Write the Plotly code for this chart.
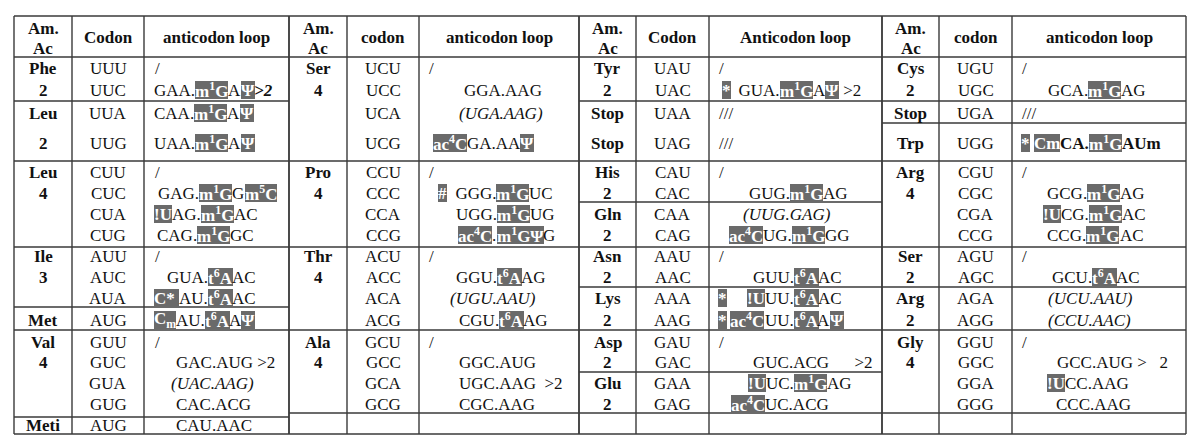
import plotly.graph_objects as go

# ---------------- data ----------------
HEADERS = [
    ["Am.", "Ac", "Codon", "anticodon loop"],
    ["Am.", "Ac", "codon", "anticodon loop"],
    ["Am.", "Ac", "Codon", "Anticodon loop"],
    ["Am.", "Ac", "codon", "anticodon loop"],
]

# Markup: {..} highlighted (white bold on grey), [..] bold italic,
# ^x superscript, _x subscript, leading "b|" = bold row, "(" = italic row
B1_AA = ["Phe", "2", "Leu", "2", "Leu", "4", "", "", "Ile", "3", "", "Met", "Val", "4", "", "", "Meti"]
B1_CODON = ["UUU", "UUC", "UUA", "UUG", "CUU", "CUC", "CUA", "CUG", "AUU", "AUC", "AUA", "AUG",
            "GUU", "GUC", "GUA", "GUG", "AUG"]
B1_ANTI = ["/", "GAA.{m^1G}A{Ψ}[>2]", "CAA.{m^1G}A{Ψ}", "UAA.{m^1G}A{Ψ}",
           "/", "GAG.{m^1G}G{m^5C}", "{!U}AG.{m^1G}AC", "CAG.{m^1G}GC",
           "/", "GUA.{t^6A}AC", "{C* }AU.{t^6A}AC", "{C_m}AU.{t^6A}A{Ψ}",
           "/", "GAC.AUG >2", "(UAC.AAG)", "CAC.ACG", "CAU.AAC"]

B2_AA = ["Ser", "4", "", "", "Pro", "4", "", "", "Thr", "4", "", "", "Ala", "4", "", "", ""]
B2_CODON = ["UCU", "UCC", "UCA", "UCG", "CCU", "CCC", "CCA", "CCG", "ACU", "ACC", "ACA", "ACG",
            "GCU", "GCC", "GCA", "GCG", ""]
B2_ANTI = ["/", "GGA.AAG", "(UGA.AAG)", "{ac^4C}GA.AA{Ψ}",
           "/", "{#}  GGG.{m^1G}UC", "UGG.{m^1G}UG", "{ac^4C}.{m^1GΨ}G",
           "/", "GGU.{t^6A}AG", "(UGU.AAU)", "CGU.{t^6A}AG",
           "/", "GGC.AUG", "UGC.AAG  >2", "CGC.AAG", ""]

B3_AA = ["Tyr", "2", "Stop", "Stop", "His", "2", "Gln", "2", "Asn", "2", "Lys", "2",
         "Asp", "2", "Glu", "2", ""]
B3_CODON = ["UAU", "UAC", "UAA", "UAG", "CAU", "CAC", "CAA", "CAG", "AAU", "AAC", "AAA", "AAG",
            "GAU", "GAC", "GAA", "GAG", ""]
B3_ANTI = ["/", "{*}  GUA.{m^1G}A{Ψ} >2", "///", "///",
           "/", "GUG.{m^1G}AG", "(UUG.GAG)", "{ac^4C}UG.{m^1G}GG",
           "/", "GUU.{t^6A}AC", "{*}     {!U}UU.{t^6A}AC", "{*} {ac^4C}UU.{t^6A}A{Ψ}",
           "/", "GUC.ACG      >2", "{!U}UC.{m^1G}AG", "{ac^4C}UC.ACG", ""]

B4_AA = ["Cys", "2", "Stop", "Trp", "Arg", "4", "", "", "Ser", "2", "Arg", "2",
         "Gly", "4", "", "", ""]
B4_CODON = ["UGU", "UGC", "UGA", "UGG", "CGU", "CGC", "CGA", "CCG", "AGU", "AGC", "AGA", "AGG",
            "GGU", "GGC", "GGA", "GGG", ""]
B4_ANTI = ["/", "GCA.{m^1G}AG", "///", "b|{*} {Cm}CA.{m^1G}AUm",
           "/", "GCG.{m^1G}AG", "{!U}CG.{m^1G}AC", "CCG.{m^1G}AC",
           "/", "GCU.{t^6A}AC", "(UCU.AAU)", "(CCU.AAC)",
           "/", "GCC.AUG > \u00a0 2", "{!U}CC.AAG", "CCC.AAG", ""]

# ---------------- layout ----------------
W, H = 1200, 448
FONT = "Liberation Serif"
FS = 17
HL_COLOR = "#6a6a6a"
LINE_COLOR = "#3a3a3a"
TEXT_COLOR = "#111111"
TOP, BOTTOM = 16, 434
HEAD_BOTTOM = 57
SLOT_Y = [68.3, 90, 113, 143, 172.7, 193.3, 214, 235, 256.7, 277.3, 298, 320,
          342.3, 362.7, 383, 404, 425]
BLOCK_EDGES = [[14, 72, 144, 289], [289, 347, 419, 579], [579, 636, 709, 882], [882, 939, 1012, 1186]]
BLOCK_HLINES = [
    [101, 161, 247, 307, 330, 417],
    [161, 247, 330, 413],
    [101, 161, 202, 247, 287, 330, 372, 413],
    [101, 123, 161, 247, 287, 330, 413],
]
ANTI_X = [
    [155, 154, 154, 154, 155, 158, 154, 157, 155, 167, 154, 154, 155, 176, 171, 176, 176],
    [429, 464, 459, 432.7, 429, 438, 455.7, 458, 429, 455.7, 450, 459, 429, 459, 459, 459, 0],
    [719, 721.7, 719, 719, 719, 749, 743, 729, 719, 752.7, 717.7, 717.7, 719, 752.7, 748, 730.7, 0],
    [1021.7, 1048, 1021.7, 1021, 1021.7, 1047, 1042.7, 1047, 1021.7, 1051.7, 1047.7, 1048,
     1021.7, 1056.7, 1046.7, 1056, 0],
]

W_R = {' ': 250, '\u00a0': 250, '!': 333, '#': 500, '(': 333, ')': 333, '*': 500, '.': 250, '/': 278,
       '1': 500, '2': 500, '4': 500, '5': 500, '6': 500, '>': 564, 'A': 722, 'C': 667,
       'G': 722, 'U': 722, 'a': 444, 'c': 444, 'm': 778, 't': 278, 'Ψ': 780}
W_B = {' ': 250, '\u00a0': 250, '!': 333, '#': 500, '*': 500, '.': 250, '1': 500, '2': 500, '4': 500,
       '5': 500, '6': 500, '>': 570, 'A': 722, 'C': 722, 'G': 778, 'U': 722, 'a': 500,
       'c': 444, 'm': 833, 't': 333, 'Ψ': 800}
W_I = {' ': 250, '\u00a0': 250, '(': 333, ')': 333, '.': 250, 'A': 611, 'C': 667, 'G': 722,
       'U': 722, '>': 675, '2': 500}
W_BI = {' ': 250, '\u00a0': 250, '>': 570, '2': 500}
TABLES = {'r': W_R, 'b': W_B, 'i': W_I, 'bi': W_BI}


def parse(s):
    row_bold = s.startswith("b|")
    if row_bold:
        s = s[2:]
    row_ital = s.startswith("(")
    segs, cur, kind = [], [], 'n'
    i = 0
    while i < len(s):
        c = s[i]
        if c in '{[}]':
            if cur:
                segs.append((kind, cur))
            cur = []
            kind = {'{': 'h', '[': 'bi'}.get(c, 'n')
        elif c in '^_':
            cur.append((s[i + 1], 'sup' if c == '^' else 'sub'))
            i += 1
        else:
            cur.append((c, ''))
        i += 1
    if cur:
        segs.append((kind, cur))
    out = []
    for kind, chars in segs:
        if kind == 'h':
            style = 'b'
        elif kind == 'bi':
            style = 'bi'
        elif row_bold:
            style = 'b'
        elif row_ital:
            style = 'i'
        else:
            style = 'r'
        tbl = TABLES[style]
        width = 0.0
        html = ""
        blank = all(ch in ' \u00a0' for ch, _ in chars)
        for ch, mode in chars:
            width += tbl.get(ch, 600) * FS / 1000 * (0.7 if mode else 1)
            t = {' ': '\u00a0', '>': '&gt;'}.get(ch, ch)
            if mode:
                t = "<%s>%s</%s>" % (mode, t, mode)
            html += t
        if style == 'b':
            html = "<b>%s</b>" % html
        elif style == 'i':
            html = "<i>%s</i>" % html
        elif style == 'bi':
            html = "<b><i>%s</i></b>" % html
        out.append((None if blank else html, width, kind == 'h'))
    return out


fig = go.Figure()
shapes, annotations = [], []


def line(x0, y0, x1, y1):
    shapes.append(dict(type="line", x0=x0, y0=y0, x1=x1, y1=y1, xref="x", yref="y",
                       line=dict(color=LINE_COLOR, width=1.4)))


def txt(x, y, text, anchor="center", color=TEXT_COLOR, bg=None):
    a = dict(x=x, y=y, xref="x", yref="y", text=text, showarrow=False, xanchor=anchor,
             yanchor="middle", font=dict(family=FONT, size=FS, color=color),
             borderpad=0, borderwidth=0)
    if bg:
        a["bgcolor"] = bg
        a["height"] = 18
    annotations.append(a)


blocks = [(B1_AA, B1_CODON, B1_ANTI), (B2_AA, B2_CODON, B2_ANTI),
          (B3_AA, B3_CODON, B3_ANTI), (B4_AA, B4_CODON, B4_ANTI)]

for b, (aa, codon, anti) in enumerate(blocks):
    e = BLOCK_EDGES[b]
    for x in e:
        line(x, TOP, x, BOTTOM)
    for y in [TOP, HEAD_BOTTOM] + BLOCK_HLINES[b] + [BOTTOM]:
        line(e[0], y, e[3], y)
    hd = HEADERS[b]
    txt((e[0] + e[1]) / 2, 28.5, "<b>%s</b>" % hd[0])
    txt((e[0] + e[1]) / 2, 48, "<b>%s</b>" % hd[1])
    txt((e[1] + e[2]) / 2, 37.5, "<b>%s</b>" % hd[2])
    txt((e[2] + e[3]) / 2, 37.5, "<b>%s</b>" % hd[3])
    for k, y in enumerate(SLOT_Y):
        if aa[k]:
            txt((e[0] + e[1]) / 2, y, "<b>%s</b>" % aa[k])
        if codon[k]:
            txt((e[1] + e[2]) / 2, y, codon[k])
        if anti[k]:
            cx = ANTI_X[b][k]
            for html, w, hl in parse(anti[k]):
                if html is not None:
                    if hl:
                        txt(cx, y, html, anchor="left", color="white", bg=HL_COLOR)
                    else:
                        txt(cx, y, html, anchor="left")
                cx += w

fig.update_layout(
    width=W, height=H, margin=dict(l=0, r=0, t=0, b=0),
    paper_bgcolor="white", plot_bgcolor="white",
    xaxis=dict(range=[0, W], visible=False, fixedrange=True),
    yaxis=dict(range=[H, 0], visible=False, fixedrange=True),
    shapes=shapes, annotations=annotations, showlegend=False,
)
fig.write_html("out.html", config={"displayModeBar": False},
               post_script="document.body.style.margin='0';document.body.style.overflow='hidden';")
